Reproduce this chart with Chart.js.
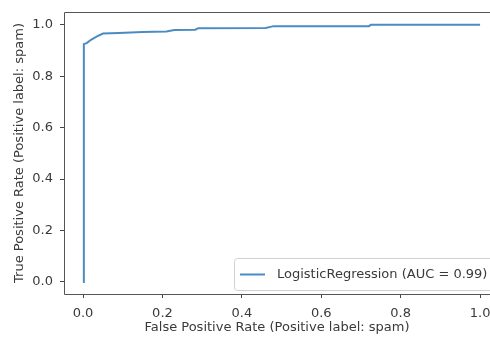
<!DOCTYPE html>
<html><head><meta charset="utf-8">
<script src="https://cdn.jsdelivr.net/npm/chart.js@4"></script>
<style>html,body{margin:0;padding:0;background:#fff}#wrap{width:490px;height:340px}</style>
</head><body><div id="wrap"><canvas id="c" width="490" height="340"></canvas></div>
<script>
const seriesLabel = "LogisticRegression (AUC = 0.99)";
const fpr = [0, 0.002, 0.002, 0.01, 0.02, 0.035, 0.05, 0.09, 0.15, 0.21, 0.23, 0.283, 0.29, 0.46, 0.48, 0.72, 0.725, 1.0];
const tpr = [0, 0, 0.925, 0.93, 0.942, 0.955, 0.966, 0.968, 0.972, 0.974, 0.98, 0.981, 0.987, 0.988, 0.995, 0.995, 1.0, 1.0];
const tickValues = [0, 0.2, 0.4, 0.6, 0.8, 1.0];
const xTitle = "False Positive Rate (Positive label: spam)";
const yTitle = "True Positive Rate (Positive label: spam)";

const FONT = "'DejaVu Sans', sans-serif";
const TXT = '#3a3a3a';
const LINE = '#4a8cc2';

const framePlugin = {
  id: 'frame',
  afterDraw(chart) {
    const {ctx, chartArea: a} = chart;
    ctx.save();
    ctx.strokeStyle = '#555';
    ctx.lineWidth = 1;
    ctx.beginPath();
    ctx.moveTo(a.right + 5, a.top + 0.5);
    ctx.lineTo(a.left + 0.5, a.top + 0.5);
    ctx.lineTo(a.left + 0.5, a.bottom + 0.5);
    ctx.lineTo(a.right + 5, a.bottom + 0.5);
    ctx.stroke();
    // legend
    const lx = 234, ly = 258, lw = 262, lh = 32;
    ctx.fillStyle = 'rgba(255,255,255,0.9)';
    ctx.strokeStyle = '#d0d0d0';
    ctx.beginPath();
    if (ctx.roundRect) ctx.roundRect(lx + 0.5, ly + 0.5, lw, lh, 3); else ctx.rect(lx + 0.5, ly + 0.5, lw, lh);
    ctx.fill(); ctx.stroke();
    ctx.strokeStyle = LINE; ctx.lineWidth = 2;
    ctx.beginPath(); ctx.moveTo(240, 274.5); ctx.lineTo(265, 274.5); ctx.stroke();
    ctx.fillStyle = TXT;
    ctx.font = '13px ' + FONT;
    ctx.textBaseline = 'middle'; ctx.textAlign = 'left';
    ctx.fillText(chart.data.datasets[0].label, 277, 274.5);
    ctx.restore();
  }
};

new Chart(document.getElementById('c'), {
  type: 'scatter',
  data: {
    datasets: [{
      label: seriesLabel,
      data: fpr.map((x, i) => ({x: x, y: tpr[i]})),
      showLine: true,
      borderColor: LINE,
      borderWidth: 2,
      pointRadius: 0,
      tension: 0,
      fill: false
    }]
  },
  options: {
    responsive: false,
    animation: false,
    devicePixelRatio: 1,
    layout: {padding: {top: 12, right: 0, left: 0, bottom: 0}},
    plugins: {legend: {display: false}, tooltip: {enabled: false}},
    scales: {
      x: {
        type: 'linear', min: -0.048, max: 1.025,
        afterBuildTicks(s) { s.ticks = tickValues.map(v => ({value: v})); },
        afterFit(s) { s.height = 46; s.paddingRight = 0; s.paddingLeft = 0; },
        grid: {display: true, drawOnChartArea: false, drawTicks: true, tickLength: 4, color: '#444'},
        border: {display: false},
        ticks: {color: TXT, font: {family: FONT, size: 13}, padding: 8, maxRotation: 0,
          callback: v => v.toFixed(1)},
        title: {display: true, text: xTitle, color: TXT, font: {family: FONT, size: 13}, padding: {top: 0, bottom: 5}}
      },
      y: {
        type: 'linear', min: -0.047, max: 1.05,
        afterBuildTicks(s) { s.ticks = tickValues.map(v => ({value: v})); },
        afterFit(s) { s.width = 64; s.paddingTop = 0; s.paddingBottom = 0; },
        grid: {display: true, drawOnChartArea: false, drawTicks: true, tickLength: 4, color: '#444'},
        border: {display: false},
        ticks: {color: TXT, font: {family: FONT, size: 13}, padding: 7,
          callback: v => v.toFixed(1)},
        title: {display: true, text: yTitle, color: TXT, font: {family: FONT, size: 13}, padding: {top: 12, bottom: 4}}
      }
    }
  },
  plugins: [framePlugin]
});
</script>
</body></html>
